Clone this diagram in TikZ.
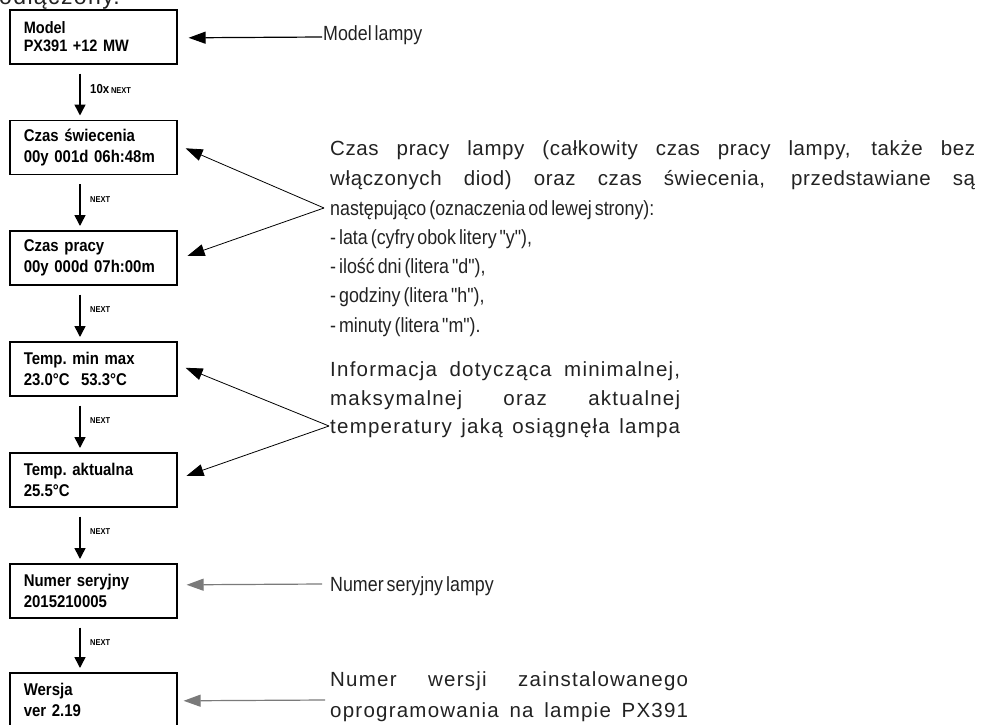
\documentclass[tikz,border=0pt]{standalone}
\usepackage{fontspec}
\usetikzlibrary{arrows.meta,calc}
\newfontfamily\descfont{Liberation Sans}[FakeStretch=0.87,WordSpace=0.6]
\newfontfamily\widefont{Liberation Sans}[LetterSpace=6,WordSpace=0.8]
\newfontfamily\parfont{Liberation Sans}[LetterSpace=3]
\newfontfamily\lcdfont{Liberation Sans}[FakeStretch=0.88,WordSpace=0.85]
\definecolor{txt}{HTML}{222222}
\definecolor{lgray}{HTML}{7A7A7A}
\tikzset{
  lcd/.style={draw=black, line width=1.6pt, anchor=north west, minimum height=54pt,
    text width=139pt, inner xsep=14pt, inner ysep=0pt, align=left,
    font=\lcdfont\bfseries\fontsize{17}{21}\selectfont\frenchspacing},
  varrow/.style={line width=1.5pt, -{Triangle[length=11pt,width=11pt]}},
  nextlab/.style={anchor=west, inner sep=0pt, font=\lcdfont\bfseries\fontsize{8.5}{10}\selectfont},
  desc/.style={anchor=base west, inner sep=0pt, text=txt, font=\descfont\fontsize{20.5}{24}\selectfont},
  wdesc/.style={anchor=base west, inner sep=0pt, text=txt, font=\widefont\fontsize{20.5}{24}\selectfont},
  pdesc/.style={anchor=base west, inner sep=0pt, text=txt, font=\parfont\fontsize{20.5}{24}\selectfont},
  harrow/.style={line width=1.2pt, -{Triangle[length=17pt,width=12pt]}},
  diag/.style={line width=0.8pt, -{Triangle[length=17pt,width=12pt]}},
}
\begin{document}
\begin{tikzpicture}[x=1pt,y=-1pt]
\clip (0,0) rectangle (982,725);
\useasboundingbox (0,0) rectangle (982,725);
% partial heading text cut at top
\node[wdesc, font=\widefont\fontsize{23}{24}\selectfont] (top) at (-1,5) {odłączony.};
% boxes
\node[lcd, font=\lcdfont\bfseries\fontsize{16.5}{18}\selectfont\frenchspacing] (b1) at (9,9) {Model\\PX391 +12 MW};
\node[lcd] (b2) at (9,119.5) {Czas świecenia\\00y 001d 06h:48m};
\node[lcd] (b3) at (9,230) {Czas pracy\\00y 000d 07h:00m};
\node[lcd] (b4) at (9,341) {Temp. min max\\23.0°C\ \ 53.3°C};
\node[lcd] (b5) at (9,452) {Temp. aktualna\\25.5°C};
\node[lcd] (b6) at (9,563) {Numer seryjny\\2015210005};
\node[lcd] (b7) at (9,672) {Wersja\\ver 2.19};
% vertical arrows
\foreach \a/\b in {b1/b2,b2/b3,b3/b4,b4/b5,b5/b6,b6/b7}{
  \draw[varrow] ($(\a.south west)+(71,9)$) -- ($(\b.north west)+(71,-4)$);
}
\node[nextlab] (l1) at ($(b1.south west)+(81,24)$) {{\fontsize{13}{14}\selectfont 10x} NEXT};
\foreach \a/\n in {b2/l2,b3/l3,b4/l4,b5/l5,b6/l6}{
  \node[nextlab] (\n) at ($(\a.south west)+(81,24)$) {NEXT};
}
% right texts
\node[desc] (t1) at (323,41) {Model lampy};
\node[pdesc] (d1) at (330,155) {\makebox[645pt][s]{Czas pracy lampy (całkowity czas pracy lampy, także bez}};
\node[pdesc] (d2) at (330,185) {\makebox[645pt][s]{włączonych diod) oraz czas świecenia, przedstawiane są}};
\node[desc] (d3) at (330,215) {następująco (oznaczenia od lewej strony):};
\node[desc] (d4) at (330,244) {- lata (cyfry obok litery "y"),};
\node[desc] (d5) at (330,273) {- ilość dni (litera "d"),};
\node[desc] (d6) at (330,302) {- godziny (litera "h"),};
\node[desc] (d7) at (330,332) {- minuty (litera "m").};
\node[wdesc] (e1) at (330,376) {\makebox[350pt][s]{Informacja dotycząca minimalnej,}};
\node[wdesc] (e2) at (330,405) {\makebox[350pt][s]{maksymalnej oraz aktualnej}};
\node[wdesc] (e3) at (330,433) {\makebox[350pt][s]{temperatury jaką osiągnęła lampa}};
\node[desc] (n1) at (330,591) {Numer seryjny lampy};
\node[wdesc] (w1) at (330,686) {\makebox[358pt][s]{Numer wersji zainstalowanego}};
\node[wdesc] (w2) at (330,717) {\makebox[358pt][s]{oprogramowania na lampie PX391}};
% connectors
\coordinate (cm) at (322,37);
\draw[harrow] (cm) -- ($(b1.east)+(11,1)$);
\coordinate (j1) at (324,208);
\draw[diag] (j1) -- ($(b2.east)+(8,1)$);
\draw[diag] (j1) -- ($(b3.east)+(10,-2)$);
\coordinate (j2) at (329,426);
\draw[diag] (j2) -- ($(b4.east)+(8,-1)$);
\draw[diag] (j2) -- ($(b5.east)+(9,-4)$);
\coordinate (cn) at (322,584);
\draw[harrow, draw=lgray] (cn) -- ($(b6.east)+(9,-6)$);
\coordinate (cw) at (325,700);
\draw[harrow, draw=lgray] (cw) -- ($(b7.east)+(6,1)$);
\end{tikzpicture}
\end{document}
